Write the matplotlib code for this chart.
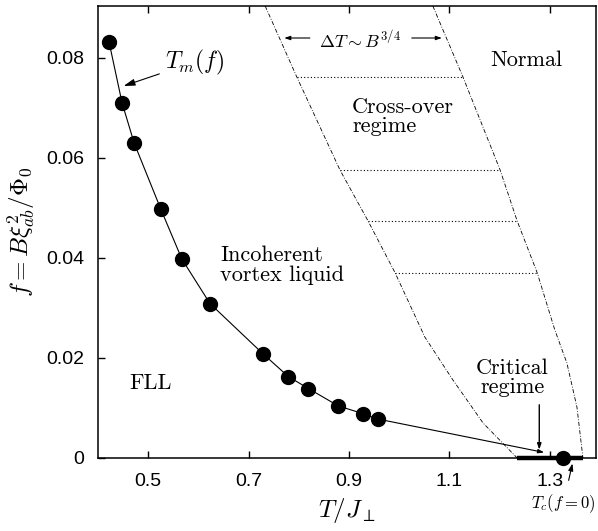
import matplotlib
matplotlib.use("Agg")
import matplotlib.pyplot as plt
import numpy as np

plt.rcParams['mathtext.fontset'] = 'cm'

# melting line T_m(f) data
T_m = [0.422, 0.448, 0.472, 0.525, 0.567, 0.623, 0.728, 0.779, 0.819, 0.879, 0.927, 0.957]
f_m = [0.0832, 0.0710, 0.0630, 0.0498, 0.0398, 0.0309, 0.0209, 0.0163, 0.0139, 0.0104, 0.0089, 0.0078]
T_m_end = 1.294
f_m_end = 0.0010

# zero-field critical temperature
T_c0 = 1.327

# crossover boundaries (dash-dot curves)
T_left = [0.733, 0.796, 0.882, 0.938, 0.992, 1.051, 1.107, 1.167, 1.235]
f_left = [0.0904, 0.0762, 0.0576, 0.0474, 0.0370, 0.0242, 0.0156, 0.0070, 0.0]
T_right = [1.067, 1.127, 1.201, 1.235, 1.275, 1.310, 1.334, 1.354, 1.366]
f_right = [0.0904, 0.0762, 0.0576, 0.0474, 0.0370, 0.0256, 0.0190, 0.0102, 0.0]

# dotted levels in crossover regime
f_dotted = [0.0762, 0.0576, 0.0474, 0.0370]

# critical regime on the T axis
T_crit = [1.235, 1.366]

x_ticks = [0.5, 0.7, 0.9, 1.1, 1.3]
x_ticklabels = ['0.5', '0.7', '0.9', '1.1', '1.3']
y_ticks = [0, 0.02, 0.04, 0.06, 0.08]
y_ticklabels = ['0', '0.02', '0.04', '0.06', '0.08']

fig = plt.figure(figsize=(5.98, 5.31), dpi=100)
ax = fig.add_axes([98/598, 1 - 458/531, 498/598, 452/531])
ax.set_xlim(0.4, 1.392)
ax.set_ylim(0, 0.0904)

# melting line
ax.plot(T_m, f_m, color='black', lw=0.8, zorder=3)
ax.annotate('', xy=(T_m_end, f_m_end), xytext=(T_m[-1], f_m[-1]),
            arrowprops=dict(arrowstyle='-|>,head_length=0.35,head_width=0.12', color='black', lw=0.8),
            zorder=3)
ax.plot(T_m, f_m, 'o', color='black', ms=10, zorder=4, clip_on=False)

# crossover boundaries
ax.plot(T_left, f_left, color='black', lw=0.6, ls=(0, (5, 2, 1, 2)))
ax.plot(T_right, f_right, color='black', lw=0.6, ls=(0, (5, 2, 1, 2)))

# dotted lines
Tl_sorted = T_left[::-1]; fl_sorted = f_left[::-1]
Tr_sorted = T_right[::-1]; fr_sorted = f_right[::-1]
for fd in f_dotted:
    x0 = np.interp(fd, fl_sorted, Tl_sorted)
    x1 = np.interp(fd, fr_sorted, Tr_sorted)
    ax.plot([x0, x1], [fd, fd], color='black', lw=0.8, ls=(0, (1, 2)))

# critical regime thick segment
ax.plot(T_crit, [0, 0], color='black', lw=3.2, solid_capstyle='butt', zorder=5, clip_on=False)
ax.plot([T_c0], [0], 'o', color='black', ms=10, zorder=6, clip_on=False)

# ticks
ax.set_xticks(x_ticks)
ax.set_xticklabels(x_ticklabels, fontfamily='Liberation Sans', fontsize=14)
ax.set_yticks(y_ticks)
ax.set_yticklabels(y_ticklabels, fontfamily='Liberation Sans', fontsize=14)
ax.tick_params(axis='x', direction='in', length=5, width=1, top=True, pad=11)
ax.tick_params(axis='y', direction='in', length=5, width=1, right=False, pad=10)
for s in ax.spines.values():
    s.set_linewidth(1.1)

ax.set_xlabel(r'$T/J_\perp$', fontsize=18, labelpad=4)
ax.set_ylabel(r'$f = B\xi_{ab}^2/\Phi_0$', fontsize=18, labelpad=6)

serif = 'cmr10'
ax.text(0.8445 if False else 1.253, 0.0796, 'Normal', fontfamily=serif, fontsize=16,
        ha='center', va='center')
ax.text(0.906, 0.0722, 'Cross-over\nregime', fontfamily=serif, fontsize=16,
        ha='left', va='top', linespacing=1.0)
ax.text(0.644, 0.0425, 'Incoherent\nvortex liquid', fontfamily=serif, fontsize=16,
        ha='left', va='top', linespacing=1.0)
ax.text(0.463, 0.0150, 'FLL', fontfamily=serif, fontsize=16, ha='left', va='center')
ax.text(1.225, 0.0200, 'Critical\nregime', fontfamily=serif, fontsize=16,
        ha='center', va='top', linespacing=1.0)

# Critical regime arrow
ax.annotate('', xy=(1.279, 0.0011), xytext=(1.279, 0.0112),
            arrowprops=dict(arrowstyle='-|>,head_length=0.35,head_width=0.12', color='black', lw=1.0))

# T_m(f) label & arrow
ax.annotate(r'$T_m(f)$', xy=(0.451, 0.0744), xytext=(0.533, 0.0792),
            fontsize=17, ha='left', va='center',
            arrowprops=dict(arrowstyle='-|>,head_length=0.4,head_width=0.12', color='black', lw=0.8,
                            shrinkA=2, shrinkB=0))

# Delta T ~ B^{3/4}
ax.text(0.922, 0.0836, r'$\Delta T \sim B^{3/4}$', fontsize=13, ha='center', va='center')
ax.annotate('', xy=(0.771, 0.0840), xytext=(0.822, 0.0840),
            arrowprops=dict(arrowstyle='-|>,head_length=0.35,head_width=0.12', color='black', lw=0.8,
                            shrinkA=0, shrinkB=0))
ax.annotate('', xy=(1.085, 0.0840), xytext=(1.025, 0.0840),
            arrowprops=dict(arrowstyle='-|>,head_length=0.35,head_width=0.12', color='black', lw=0.8,
                            shrinkA=0, shrinkB=0))

# T_c(f=0) label & arrow
ax.annotate(r'$T_c(f=0)$', xy=(1.345, -0.0011), xytext=(1.327, -0.0092),
            fontsize=12, ha='center', va='center', annotation_clip=False,
            arrowprops=dict(arrowstyle='-|>,head_length=0.35,head_width=0.12', color='black', lw=0.8,
                            shrinkA=7, shrinkB=0))

fig.savefig('out.png', dpi=100)
